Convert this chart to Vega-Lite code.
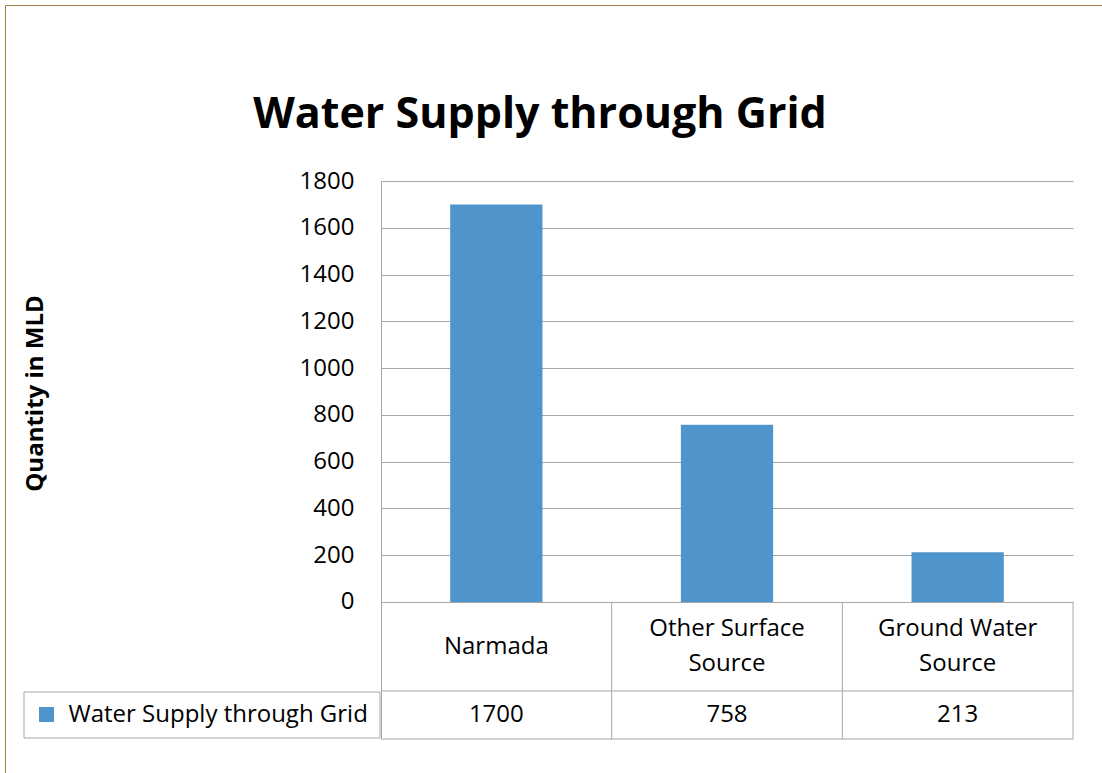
{
  "$schema": "https://vega.github.io/schema/vega-lite/v6.json",
  "autosize": {"type": "none"},
  "padding": {"left": 381, "top": 181, "right": 29, "bottom": 34},
  "width": 692,
  "height": 558,
  "background": "white",
  "title": {
    "text": "Water Supply through Grid",
    "font": "Open Sans",
    "fontSize": 43,
    "fontWeight": "bold",
    "color": "black",
    "anchor": "middle",
    "frame": "group",
    "dx": -187,
    "offset": 36,
    "dy": 168
  },
  "config": {
    "view": {"stroke": null},
    "font": "Open Sans",
    "text": {"font": "Open Sans", "fontSize": 24, "color": "black"}
  },
  "data": {
    "values": [
      {"source": "Narmada", "label": "Narmada", "quantity": 1700, "series": "Water Supply through Grid"},
      {"source": "Other Surface Source", "label": "Other Surface\nSource", "quantity": 758, "series": "Water Supply through Grid"},
      {"source": "Ground Water Source", "label": "Ground Water\nSource", "quantity": 213, "series": "Water Supply through Grid"}
    ]
  },
  "encoding": {
    "x": {
      "field": "source",
      "type": "nominal",
      "sort": null,
      "scale": {"paddingInner": 0, "paddingOuter": 0},
      "axis": null
    }
  },
  "layer": [
    {
      "mark": {"type": "bar", "width": {"band": 0.4}},
      "encoding": {
        "y": {
          "field": "quantity",
          "type": "quantitative",
          "scale": {"domain": [-585.75, 1800], "nice": false, "zero": false},
          "axis": {
            "values": [0, 200, 400, 600, 800, 1000, 1200, 1400, 1600, 1800],
            "format": "d",
            "title": "Quantity in MLD",
            "titleFont": "Open Sans",
            "titleFontSize": 24,
            "titleFontWeight": "bold",
            "titleColor": "black",
            "titleX": -346,
            "titleY": 212,
            "titleAngle": -90,
            "titleAlign": "center",
            "titleBaseline": "middle",
            "labelFont": "Open Sans",
            "labelFontSize": 24,
            "labelColor": "black",
            "labelPadding": 27,
            "ticks": false,
            "grid": true,
            "gridColor": "#A6A6A6",
            "gridWidth": 1,
            "domainColor": "#A6A6A6",
            "domainWidth": 1
          }
        },
        "color": {
          "field": "series",
          "type": "nominal",
          "scale": {"range": ["#4F94CA"]},
          "legend": {
            "orient": "none",
            "legendX": -357.5,
            "legendY": 510.5,
            "title": null,
            "padding": 11,
            "strokeColor": "#A6A6A6",
            "symbolType": "square",
            "symbolSize": 225,
            "symbolStrokeWidth": 0,
            "labelFont": "Open Sans",
            "labelFontSize": 24,
            "labelColor": "black",
            "labelOffset": 10,
            "labelLimit": 400
          }
        }
      }
    },
    {
      "transform": [{"filter": "indexof(datum.label, '\\n') < 0"}],
      "mark": {"type": "text", "baseline": "middle", "align": "center"},
      "encoding": {
        "y": {"datum": -190.3, "type": "quantitative"},
        "text": {"field": "label"}
      }
    },
    {
      "transform": [{"filter": "indexof(datum.label, '\\n') >= 0"}],
      "mark": {"type": "text", "baseline": "middle", "align": "center", "lineBreak": "\n", "lineHeight": 35},
      "encoding": {
        "y": {"datum": -115.4, "type": "quantitative"},
        "text": {"field": "label"}
      }
    },
    {
      "mark": {"type": "text", "baseline": "middle", "align": "center"},
      "encoding": {
        "y": {"datum": -483.1, "type": "quantitative"},
        "text": {"field": "quantity", "type": "quantitative", "format": "d"}
      }
    },
    {
      "mark": {"type": "rule", "strokeWidth": 1},
      "encoding": {
        "x": {"field": "source", "type": "nominal", "sort": null, "bandPosition": 1},
        "y": {"datum": 0, "type": "quantitative"},
        "y2": {"datum": -585.75},
        "stroke": {
          "field": "quantity",
          "type": "quantitative",
          "scale": {"range": ["#A6A6A6", "#A6A6A6"]},
          "legend": {
            "orient": "none",
            "legendX": -376,
            "legendY": -176,
            "type": "gradient",
            "direction": "vertical",
            "title": null,
            "labels": false,
            "labelExpr": "''",
            "labelOpacity": 0,
            "padding": 0,
            "gradientLength": 780,
            "gradientThickness": 1110,
            "gradientOpacity": 0,
            "gradientStrokeWidth": 0,
            "strokeColor": "#A07A45"
          }
        }
      }
    },
    {
      "data": {"values": [{"line": "row separator", "level": -380.5}, {"line": "table bottom", "level": -585.75}]},
      "mark": {"type": "rule", "color": "#A6A6A6", "strokeWidth": 1},
      "encoding": {
        "x": null,
        "y": {"field": "level", "type": "quantitative"}
      }
    }
  ]
}
